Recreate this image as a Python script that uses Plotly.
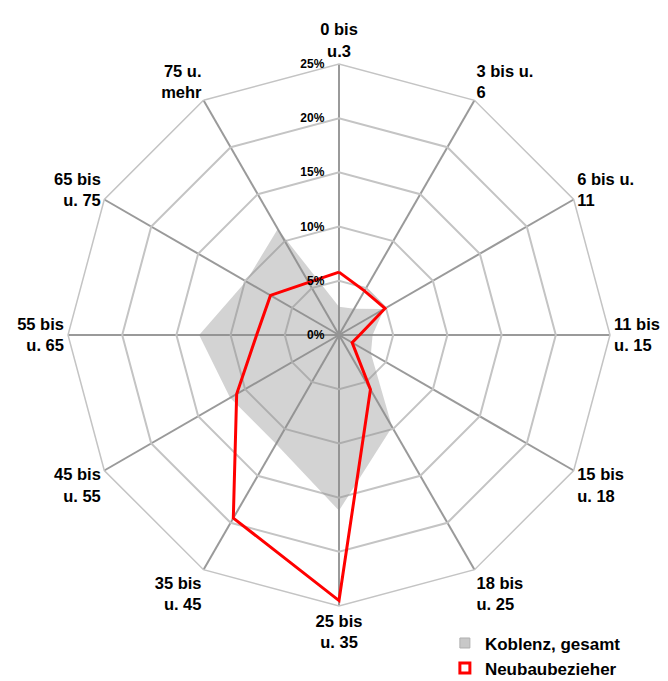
import plotly.graph_objects as go

# Age groups (clockwise from the top)
categories = [
    "0 bis u.3", "3 bis u. 6", "6 bis u. 11", "11 bis u. 15",
    "15 bis u. 18", "18 bis u. 25", "25 bis u. 35", "35 bis u. 45",
    "45 bis u. 55", "55 bis u. 65", "65 bis u. 75", "75 u. mehr",
]
tick_labels = [
    "0 bis<br>u.3", "3 bis u.<br>6", "6 bis u.<br>11", "11 bis<br>u. 15",
    "15 bis<br>u. 18", "18 bis<br>u. 25", "25 bis<br>u. 35", "35 bis<br>u. 45",
    "45 bis<br>u. 55", "55 bis<br>u. 65", "65 bis<br>u. 75", "75 u.<br>mehr",
]

# Share of persons per age group (%)
koblenz_gesamt = [2.6, 2.8, 4.8, 3.1, 3.4, 9.8, 16.2, 11.6, 11.6, 12.9, 9.9, 11.3]
neubaubezieher = [5.8, 4.7, 4.9, 1.9, 1.4, 5.8, 24.5, 19.5, 10.9, 7.6, 7.3, 5.6]

radial_ticks = [0, 5, 10, 15, 20, 25]

FONT = "Liberation Sans, Arial, sans-serif"
GRAY_FILL = "rgba(140,140,140,0.38)"
RED = "#ff0000"

fig = go.Figure()

fig.add_trace(go.Scatterpolar(
    r=koblenz_gesamt + koblenz_gesamt[:1],
    theta=categories + categories[:1],
    mode="lines",
    fill="toself",
    fillcolor=GRAY_FILL,
    line=dict(width=0, color=GRAY_FILL),
    name="Koblenz, gesamt",
    showlegend=False,
    hoverinfo="skip",
))

fig.add_trace(go.Scatterpolar(
    r=neubaubezieher + neubaubezieher[:1],
    theta=categories + categories[:1],
    mode="lines",
    line=dict(width=3, color=RED),
    name="Neubaubezieher",
    showlegend=False,
    hoverinfo="skip",
))

# Legend keys: small squares for both series
fig.add_trace(go.Scatterpolar(
    r=[None], theta=[None], mode="markers",
    marker=dict(symbol="square", size=10, color="#c8c8c8",
                line=dict(width=1, color="#b0b0b0")),
    name="Koblenz, gesamt",
))
fig.add_trace(go.Scatterpolar(
    r=[None], theta=[None], mode="markers",
    marker=dict(symbol="square-open", size=10, color=RED,
                line=dict(width=3, color=RED)),
    name="Neubaubezieher",
))

fig.update_layout(
    width=668,
    height=681,
    margin=dict(l=0, r=0, t=0, b=0, autoexpand=False),
    paper_bgcolor="white",
    plot_bgcolor="white",
    font=dict(family=FONT, color="black"),
    polar=dict(
        domain=dict(x=[68 / 668, 610 / 668], y=[75 / 681, 617 / 681]),
        bgcolor="white",
        gridshape="linear",
        angularaxis=dict(
            type="category",
            categoryarray=categories,
            direction="clockwise",
            rotation=90,
            tickmode="array",
            tickvals=categories,
            ticktext=tick_labels,
            tickfont=dict(family=FONT, size=16.5, color="black", weight="bold"),
            ticks="",
            showline=True,
            linecolor="#c4c4c4",
            linewidth=1.5,
            showgrid=True,
            gridcolor="#9a9a9a",
            gridwidth=1.5,
        ),
        radialaxis=dict(
            range=[0, 25],
            angle=90,
            side="counterclockwise",
            tickmode="array",
            tickvals=radial_ticks,
            ticktext=[f"{v}%" for v in radial_ticks],
            tickangle=90,
            tickfont=dict(family=FONT, size=12, color="black", weight="bold"),
            ticks="outside",
            ticklen=10,
            tickcolor="rgba(0,0,0,0)",
            showline=False,
            showgrid=True,
            gridcolor="#c4c4c4",
            gridwidth=1.5,
        ),
    ),
    showlegend=True,
    legend=dict(
        x=0.666,
        y=-0.008,
        xanchor="left",
        yanchor="bottom",
        font=dict(family=FONT, size=17, color="black", weight="bold"),
        itemwidth=30,
        tracegroupgap=0,
        bgcolor="rgba(0,0,0,0)",
    ),
)

fig.write_html("out.html")
